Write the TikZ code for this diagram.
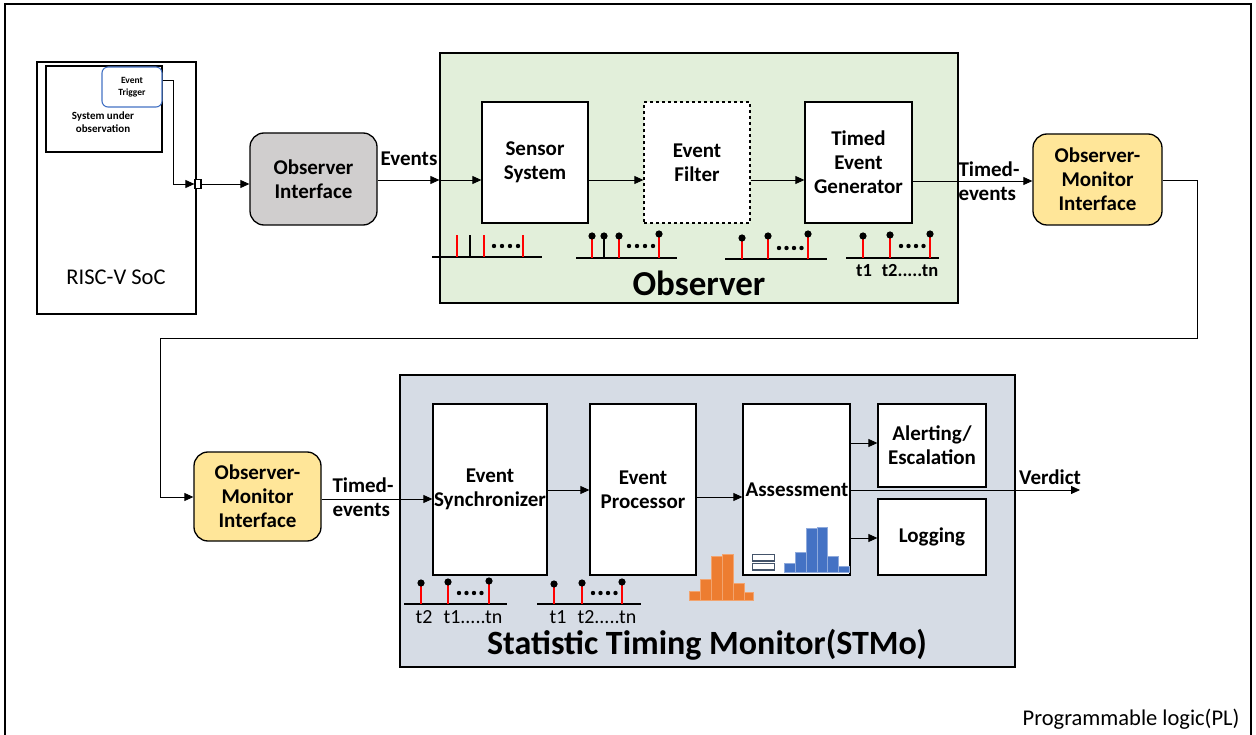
\documentclass[tikz,border=0pt]{standalone}
\usepackage{fontspec}
\setmainfont{Carlito}
\usetikzlibrary{arrows.meta}
\definecolor{obsgreen}{HTML}{E2EFDA}
\definecolor{stmblue}{HTML}{D6DCE5}
\definecolor{ifgray}{HTML}{D0CECE}
\definecolor{ifyellow}{HTML}{FFE699}
\definecolor{trigblue}{HTML}{4472C4}
\definecolor{historange}{HTML}{ED7D31}
\definecolor{histblue}{HTML}{4472C4}
\definecolor{dbnavy}{HTML}{44546A}
\definecolor{stemred}{HTML}{FF0000}
\tikzset{
  lbl/.style={font=\bfseries\fontsize{21}{24}\selectfont, align=center},
  blockbox/.style={draw, line width=1.3pt, fill=white, lbl},
  iface/.style={draw, line width=1.3pt, rounded corners=14pt, lbl},
  group/.style={draw, line width=1.2pt},
  conn/.style={line width=0.8pt, -{Triangle[length=9pt,width=8pt]}},
  redstem/.style={stemred, line width=1.6pt},
  blackstem/.style={black, line width=1.2pt},
  baseln/.style={line width=1.2pt},
  tick/.style={font=\fontsize{20}{22}\selectfont},
  tickb/.style={font=\bfseries\fontsize{18.5}{20}\selectfont},
}
\newcommand{\ballstem}[4][redstem]{%
  \draw[#1] (#2,#4) -- (#2,#3);
  \fill (#2,#3) circle (3.6);}
\newcommand{\dotrow}[3]{%
  \foreach \k in {0,1,2,3} {\fill (#1+\k*#3,#2) circle (2.2);}}
\begin{document}
\begin{tikzpicture}[x=1pt,y=-1pt]
\useasboundingbox (0,0) rectangle (1256,735);
% outer programmable-logic frame
\draw[line width=1.5pt] (5,745) -- (5,4) -- (1251,4) -- (1251,745);
\node[anchor=south east, font=\fontsize{22.5}{24}\selectfont] (pl) at (1243,733) {Programmable logic(PL)};

% RISC-V SoC
\node[draw, line width=2.4pt, minimum width=159, minimum height=252, inner sep=0] (soc) at (116.5,188) {};
\node[font=\fontsize{22.5}{24}\selectfont] (soclbl) at (116,277) {RISC-V SoC};
\node[draw, line width=1.2pt, minimum width=116, minimum height=86, inner sep=0] (sut) at (104,109) {};
\node[font=\bfseries\fontsize{11}{13}\selectfont, align=center] (sutlbl) at (103,122) {System under\\observation};
\node[draw=trigblue, fill=white, line width=1.1pt, rounded corners=6pt, minimum width=60, minimum height=40, inner sep=0, font=\bfseries\fontsize{9.5}{11.5}\selectfont, align=center] (trig) at (132,87) {Event\\Trigger};
\node[draw, fill=white, line width=1.2pt, minimum width=6, minimum height=9, inner sep=0] (port) at (198,184) {};

% Observer group
\node[group, fill=obsgreen, minimum width=518, minimum height=250, inner sep=0] (obs) at (699,178) {};
\node[font=\bfseries\fontsize{35}{37}\selectfont] (obslbl) at (699,283) {Observer};
\node[blockbox, minimum width=106, minimum height=121] (sensor) at (535,162.5) {Sensor\\System};
\node[blockbox, dashed, minimum width=106, minimum height=121] (filter) at (697,162.5) {Event\\Filter};
\node[blockbox, minimum width=107, minimum height=121] (teg) at (858.5,162.5) {Timed\\Event\\Generator};

% interfaces
\node[iface, fill=ifgray, minimum width=127, minimum height=92] (oif) at (313.5,179) {Observer\\Interface};
\node[iface, fill=ifyellow, minimum width=129, minimum height=91] (omi1) at (1097.5,179.5) {Observer-\\Monitor\\Interface};
\node[iface, fill=ifyellow, minimum width=127, minimum height=89] (omi2) at (257.5,496.5) {Observer-\\Monitor\\Interface};

% STMo group
\node[group, fill=stmblue, minimum width=615, minimum height=292, inner sep=0] (stm) at (707.5,521) {};
\node[font=\bfseries\fontsize{34}{36}\selectfont] (stmlbl) at (707,645) {Statistic Timing Monitor(STMo)};
\node[blockbox, minimum width=114, minimum height=171, inner sep=0] (sync) at (490,489.5) {};
\node[lbl] (synclbl) at (490,489.5) {Event\\Synchronizer};
\node[blockbox, minimum width=106, minimum height=171] (proc) at (643,489.5) {Event\\Processor};
\node[blockbox, minimum width=107, minimum height=171] (assess) at (796.5,489.5) {};
\node[lbl] (asslbl) at (797,490) {Assessment};
\node[blockbox, minimum width=108, minimum height=83] (alert) at (932,445.5) {Alerting/\\Escalation};
\node[blockbox, minimum width=108, minimum height=76] (logg) at (932,537) {Logging};

% connectors
\draw[conn] (trig.east |- 0,80) -- (173,80) -- (173,184) -- (port.west);
\draw[conn] (port.east) -- (oif.west |- port.east);
\coordinate (obsin) at (obs.west |- 0,180);
\draw[conn] (oif.east |- obsin) -- (obsin);
\draw[conn] (obsin) -- (sensor.west |- obsin);
\node[lbl, anchor=south] (evlbl) at (409,169) {Events};
\draw[conn] (sensor.east |- 0,180) -- (filter.west |- 0,180);
\draw[conn] (filter.east |- 0,180) -- (teg.west |- 0,180);
\draw[conn] (teg.east |- 0,181) -- (omi1.west |- 0,181);
\node[lbl, align=left, anchor=west] (tev1) at (955,181) {Timed-\\events};
\coordinate (r1) at (1197,180);
\coordinate (r2) at (1197,338);
\coordinate (r3) at (160,338);
\coordinate (r4) at (160,497);
\draw[conn] (omi1.east |- r1) -- (r1) -- (r2) -- (r3) -- (r4) -- (omi2.west |- r4);
\draw[conn] (omi2.east |- 0,499) -- (sync.west |- 0,499);
\node[lbl, align=left, anchor=west] (tev2) at (329,497) {Timed-\\events};
\draw[conn] (sync.east |- 0,490) -- (proc.west |- 0,490);
\draw[conn] (proc.east |- 0,497) -- (assess.west |- 0,497);
\draw[conn] (assess.east |- 0,443) -- (alert.west |- 0,443);
\draw[conn] (assess.east |- 0,538) -- (logg.west |- 0,538);
\coordinate (vend) at (1080,490);
\draw[conn] (assess.east |- vend) -- (vend);
\node[lbl, anchor=south] (verd) at (1050,488) {Verdict};

% event timelines inside the Observer
\draw[baseln] (432,257) -- (542,257);
\draw[redstem] (457,257) -- (457,235);
\draw[blackstem] (470,257) -- (470,235);
\draw[redstem] (484,257) -- (484,235);
\dotrow{494}{246}{8}
\draw[redstem] (523,257) -- (523,235);

\draw[baseln] (576,258) -- (677,258);
\ballstem{592}{236}{258}
\ballstem[blackstem]{604}{236}{258}
\ballstem{619}{236}{258}
\dotrow{629}{246}{8}
\ballstem{659}{234}{258}

\draw[baseln] (725,259) -- (827,259);
\ballstem{742}{238}{259}
\ballstem{768}{236}{259}
\dotrow{779}{248}{7.5}
\ballstem{808}{234}{259}

\draw[baseln] (846,258) -- (939,258);
\ballstem{863}{236}{258}
\ballstem{890}{235}{258}
\dotrow{901}{246}{7.5}
\ballstem{930}{234}{258}
\node[tickb] (ta1) at (864,271) {t1};
\node[tickb] (ta2) at (910,271) {t2.....tn};

% event timelines inside the STMo
\draw[baseln] (404,604) -- (507,604);
\ballstem{421}{583}{604}
\ballstem{448}{582}{604}
\dotrow{459}{593}{7.5}
\ballstem{489}{581}{604}
\node[tick] (tb1) at (424,617) {t2};
\node[tick] (tb2) at (473,617) {t1.....tn};

\draw[baseln] (537,604) -- (641,604);
\ballstem{554}{584}{604}
\ballstem{582}{583}{604}
\dotrow{593}{593}{7.5}
\ballstem{622}{582}{604}
\node[tick] (tc1) at (558,617) {t1};
\node[tick] (tc2) at (607,617) {t2.....tn};

% timing histograms
\foreach \xa/\xb/\yt in {689/700/591, 700/711/579, 711/722/556, 722/733/554, 733/744/583, 744/753/592}
  \draw[fill=historange, draw=historange!70!white, line width=0.5pt] (\xa,600) rectangle (\xb,\yt);
\foreach \xa/\xb/\yt in {784/795/563, 795/806/552, 806/817/528, 817/827/527, 827/838/556, 838/849/566}
  \draw[fill=histblue, draw=histblue!60!white, line width=0.5pt] (\xa,572) rectangle (\xb,\yt);
% record store icon
\draw[dbnavy, line width=1.6pt, fill=white] (752.5,554.5) rectangle (774.5,561);
\draw[dbnavy, line width=1.6pt, fill=white] (752.5,563.5) rectangle (774.5,570);
\end{tikzpicture}
\end{document}
